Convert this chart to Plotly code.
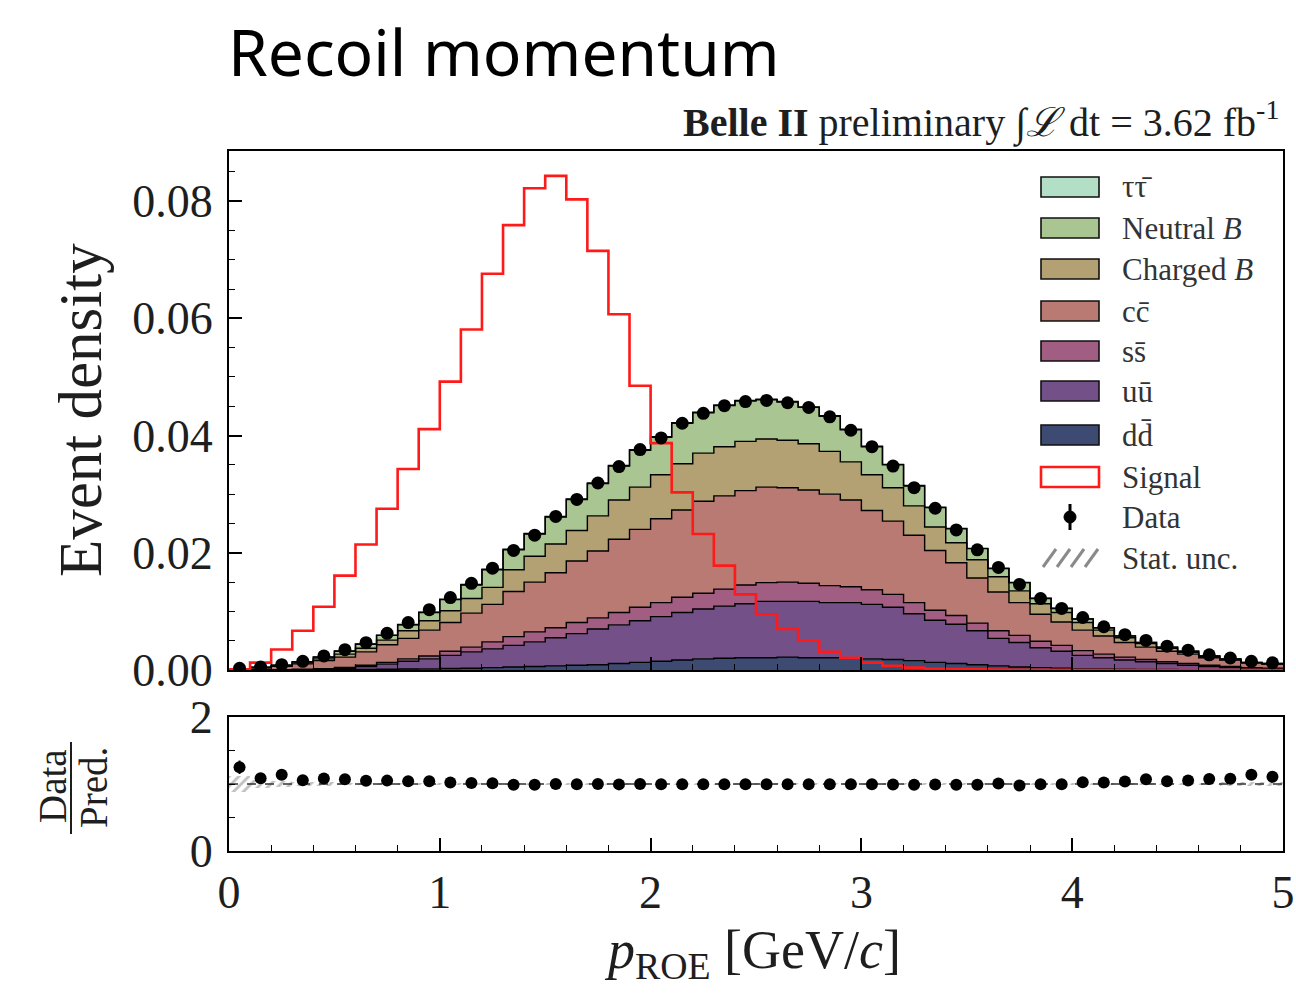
import numpy as np
import plotly.graph_objects as go

# ---- binning: 50 bins of p_ROE between 0 and 5 GeV/c ----
bin_edges = np.linspace(0.0, 5.0, 51)
bin_centres = 0.5 * (bin_edges[:-1] + bin_edges[1:])

# ---- simulated backgrounds (normalised event density per bin), stacked bottom-up ----
dd = [0, 0, 0.00001, 0.00002, 0.00003, 0.00005, 0.00008, 0.00012, 0.00016, 0.0002,
      0.00025, 0.0003, 0.0004, 0.0005, 0.0006, 0.0007, 0.0008, 0.0009, 0.0011, 0.0013,
      0.0015, 0.0017, 0.0019, 0.0020, 0.0021, 0.0021, 0.0022, 0.0021, 0.0021, 0.0020,
      0.0019, 0.0018, 0.0016, 0.0013, 0.0011, 0.0009, 0.0007, 0.0005, 0.0004, 0.0003,
      0.0002, 0.0002, 0.00015, 0.0001, 0.0001, 0.00007, 0.00005, 0.00004, 0.00003, 0.00002]
uu = [0, 0.00001, 0.00002, 0.00006, 0.00012, 0.00025, 0.00052, 0.00088, 0.00134, 0.0017,
      0.00225, 0.0028, 0.0032, 0.0037, 0.0042, 0.0048, 0.0054, 0.0061, 0.0066, 0.0071,
      0.0076, 0.0081, 0.0085, 0.0089, 0.0092, 0.0096, 0.0095, 0.0096, 0.0094, 0.0095,
      0.0093, 0.0089, 0.0080, 0.0072, 0.0067, 0.0058, 0.0047, 0.0042, 0.0034, 0.0029,
      0.0023, 0.0019, 0.00155, 0.0013, 0.0010, 0.00073, 0.00055, 0.00036, 0.00017, 0.00018]
ss = [0.00001, 0.00002, 0.00003, 0.00005, 0.00009, 0.00015, 0.0002, 0.0003, 0.0004, 0.0005,
      0.0007, 0.0008, 0.0012, 0.0015, 0.0017, 0.0017, 0.0019, 0.0019, 0.0021, 0.0023,
      0.0024, 0.0026, 0.0027, 0.0029, 0.0032, 0.0032, 0.0033, 0.0031, 0.0029, 0.0027,
      0.0025, 0.0022, 0.0019, 0.0017, 0.0015, 0.0013, 0.0013, 0.0012, 0.0011, 0.0010,
      0.0008, 0.0006, 0.0005, 0.0004, 0.0003, 0.0003, 0.0002, 0.0002, 0.0002, 0.0001]
cc = [0.00017, 0.00033, 0.00056, 0.00092, 0.00136, 0.00175, 0.0023, 0.0030, 0.0035, 0.0044,
      0.0049, 0.0058, 0.0064, 0.0077, 0.0085, 0.0094, 0.0105, 0.0114, 0.0125, 0.0133,
      0.0143, 0.0149, 0.0157, 0.0159, 0.0161, 0.0163, 0.0161, 0.0159, 0.0156, 0.0148,
      0.0135, 0.0125, 0.0115, 0.0102, 0.0090, 0.0077, 0.0066, 0.0056, 0.0046, 0.0040,
      0.0035, 0.0031, 0.0025, 0.0021, 0.0018, 0.0016, 0.0013, 0.0011, 0.0008, 0.0007]
charged_b = [0.00003, 0.00005, 0.00009, 0.00017, 0.0003, 0.0005, 0.0006, 0.0008, 0.0013, 0.0016,
             0.0020, 0.0025, 0.0029, 0.0037, 0.0044, 0.0049, 0.0052, 0.0060, 0.0067, 0.0072,
             0.0075, 0.0079, 0.0082, 0.0084, 0.0084, 0.0082, 0.0081, 0.0079, 0.0073, 0.0065,
             0.0061, 0.0057, 0.0050, 0.0040, 0.0034, 0.0031, 0.0026, 0.0020, 0.0018, 0.0016,
             0.0013, 0.0010, 0.0008, 0.0006, 0.0005, 0.0003, 0.0002, 0.0001, 0.00005, 0.00005]
neutral_b = [0.00003, 0.00005, 0.00009, 0.00018, 0.0003, 0.0005, 0.0007, 0.0008, 0.0010, 0.0014,
             0.0019, 0.0023, 0.0030, 0.0034, 0.0038, 0.0046, 0.0053, 0.0055, 0.0058, 0.0063,
             0.0064, 0.0069, 0.0069, 0.0070, 0.0069, 0.0067, 0.0065, 0.0062, 0.0060, 0.0055,
             0.0048, 0.0039, 0.0034, 0.0033, 0.0024, 0.0019, 0.0014, 0.0014, 0.0009, 0.0007,
             0.0006, 0.0004, 0.0003, 0.0002, 0.0002, 0.0002, 0.0001, 0.0001, 0.00005, 0.00005]
tautau = [0, 0, 0, 0, 0.00002, 0.00003, 0.00004, 0.00005, 0.00006, 0.00007,
          0.00008, 0.00009, 0.0001, 0.0001, 0.0001, 0.0001, 0.0001, 0.0001, 0.0001, 0.0001,
          0.0001, 0.0001, 0.0001, 0.0001, 0.0001, 0.0001, 0.0001, 0.0001, 0.0001, 0.0001,
          0.0001, 0.00008, 0.00008, 0.00007, 0.00006, 0.00005, 0.00005, 0.00004, 0.00003, 0.00003,
          0.00002, 0.00002, 0.00002, 0.00001, 0.00001, 0.00001, 0.00001, 0, 0, 0]

# ---- signal shape (normalised) ----
signal = [0.0001, 0.00125, 0.0035, 0.0067, 0.0108, 0.0161, 0.0214, 0.0275, 0.0343, 0.0411,
          0.0492, 0.0581, 0.0676, 0.0759, 0.0822, 0.0843, 0.0803, 0.0715, 0.0607, 0.0485,
          0.0387, 0.0303, 0.0232, 0.0178, 0.0129, 0.0095, 0.0070, 0.0050, 0.0031, 0.0021,
          0.00125, 0.0007, 0.0004, 0.0002, 0.00015, 0.0001, 0.00008, 0.00005, 0.00003, 0.00002,
          0.00001, 0.00001, 0, 0, 0, 0, 0, 0, 0, 0]

# ---- data (normalised) ----
data = [0.00030, 0.00050, 0.00091, 0.00148, 0.00240, 0.00346, 0.00466, 0.00625, 0.00809, 0.01029,
        0.01236, 0.01479, 0.01737, 0.0204, 0.0230, 0.0262, 0.0291, 0.0319, 0.0347, 0.0376,
        0.0396, 0.0421, 0.0438, 0.0451, 0.0458, 0.0460, 0.0456, 0.0448, 0.0432, 0.0409,
        0.0381, 0.0348, 0.0311, 0.0276, 0.0239, 0.0205, 0.0175, 0.0146, 0.0122, 0.0105,
        0.00896, 0.00738, 0.00603, 0.00504, 0.00407, 0.00338, 0.00259, 0.00205, 0.00148, 0.00122]
# relative statistical uncertainty of data and of the simulated prediction
data_rel_err = [0.08, 0.05, 0.04, 0.03, 0.025, 0.02, 0.02, 0.015, 0.015, 0.012,
                0.012, 0.01, 0.01, 0.01, 0.01, 0.01, 0.01, 0.01, 0.01, 0.01,
                0.01, 0.01, 0.01, 0.01, 0.01, 0.01, 0.01, 0.01, 0.01, 0.01,
                0.01, 0.01, 0.01, 0.01, 0.01, 0.01, 0.01, 0.01, 0.012, 0.012,
                0.012, 0.015, 0.015, 0.015, 0.02, 0.02, 0.02, 0.025, 0.025, 0.03]
mc_rel_err = [0.12, 0.06, 0.04, 0.03, 0.025, 0.02, 0.02, 0.015, 0.015, 0.012,
              0.012, 0.01, 0.01, 0.01, 0.01, 0.01, 0.01, 0.01, 0.01, 0.01,
              0.01, 0.01, 0.01, 0.01, 0.01, 0.01, 0.01, 0.01, 0.01, 0.01,
              0.01, 0.01, 0.01, 0.01, 0.01, 0.01, 0.01, 0.01, 0.012, 0.012,
              0.012, 0.015, 0.015, 0.015, 0.02, 0.02, 0.02, 0.025, 0.025, 0.03]

components = [
    ("dd\u0304", dd, "#3d4a71"),
    ("u\u016b", uu, "#745089"),
    ("ss\u0304", ss, "#a25d83"),
    ("cc\u0304", cc, "#b87a72"),
    ("Charged <i>B</i>", charged_b, "#b3a073"),
    ("Neutral <i>B</i>", neutral_b, "#a9c591"),
    ("\u03c4\u03c4\u0304", tautau, "#b2dfc6"),
]

SERIF = "Liberation Serif"
INK = "#1e1e1e"
W, H = 1296, 994
L, R, T, B = 229, 1283, 151, 851   # plot area in pixels


def px2x(px):
    return (px - L) / (R - L)


def px2y(py):
    return (B - py) / (B - T)


def step(vals):
    v = np.asarray(vals, dtype=float)
    return bin_edges, np.append(v, v[-1])


fig = go.Figure()

# stacked backgrounds as filled step histograms
cum = np.zeros(len(bin_centres))
for i, (name, vals, colour) in enumerate(components):
    cum = cum + np.asarray(vals, dtype=float)
    sx, sy = step(cum)
    fig.add_trace(go.Scatter(
        x=sx, y=sy, mode="lines", line=dict(shape="hv", color="black", width=1.4),
        fill="tozeroy" if i == 0 else "tonexty", fillcolor=colour,
        name=name, showlegend=False, hoverinfo="skip", xaxis="x", yaxis="y"))
total = cum

# signal outline
sx, sy = step(signal)
fig.add_trace(go.Scatter(
    x=sx, y=sy, mode="lines", line=dict(shape="hv", color="#ff1a1a", width=2.6),
    showlegend=False, xaxis="x", yaxis="y"))

# data points
data_arr = np.asarray(data)
fig.add_trace(go.Scatter(
    x=bin_centres, y=data_arr, mode="markers",
    marker=dict(color="black", size=13),
    error_y=dict(type="data", array=data_arr * np.asarray(data_rel_err),
                 color="black", thickness=2, width=0),
    showlegend=False, xaxis="x", yaxis="y"))

# ---- ratio panel ----
ratio = data_arr / total
mc_err = np.asarray(mc_rel_err)
fig.add_trace(go.Bar(
    x=bin_centres, y=2 * mc_err, base=1 - mc_err, width=0.1,
    marker=dict(color="rgba(0,0,0,0)", line=dict(width=0),
                pattern=dict(shape="/", fgcolor="#808080", size=7, solidity=0.4)),
    showlegend=False, xaxis="x2", yaxis="y2"))
fig.add_trace(go.Scatter(
    x=[0, 5], y=[1, 1], mode="lines", line=dict(color="#333333", width=1.6, dash="dash"),
    showlegend=False, xaxis="x2", yaxis="y2"))
fig.add_trace(go.Scatter(
    x=bin_centres, y=ratio, mode="markers",
    marker=dict(color="black", size=12),
    error_y=dict(type="data", array=np.asarray(data_rel_err) * ratio,
                 color="black", thickness=2, width=0),
    showlegend=False, xaxis="x2", yaxis="y2"))

tickfont = dict(family=SERIF, size=46, color=INK)
frame = dict(showline=True, linecolor="black", linewidth=2, mirror=True,
             ticks="inside", tickcolor="black", tickwidth=1.5, ticklen=13,
             showgrid=False, zeroline=False, tickfont=tickfont, automargin=False)
minor = dict(ticks="inside", ticklen=6, tickcolor="black", tickwidth=1.2, showgrid=False)

split_lo = px2y(717)
split_hi = px2y(670)

fig.update_layout(
    width=W, height=H, margin=dict(l=L, r=W - R, t=T, b=H - B, autoexpand=False),
    paper_bgcolor="white", plot_bgcolor="white", showlegend=False, bargap=0,
    xaxis=dict(domain=[0, 1], anchor="y", range=[0, 5], dtick=1, showticklabels=False,
               minor=dict(dtick=0.2, **minor), matches="x2", **frame),
    yaxis=dict(domain=[split_hi, 1], anchor="x", range=[0, (669 - 151) / 5850],
               dtick=0.02, tickformat=".2f", ticklabelstandoff=5,
               minor=dict(dtick=0.005, **minor), **frame),
    xaxis2=dict(domain=[0, 1], anchor="y2", range=[0, 5], dtick=1, ticklabelstandoff=0,
                minor=dict(dtick=0.2, **minor), **frame),
    yaxis2=dict(domain=[0, split_lo], anchor="x2", range=[0, 2], dtick=2,
                ticklabelstandoff=5, minor=dict(dtick=0.5, **minor), **frame),
)

ann = []
shapes = []

# title and experiment label
ann.append(dict(text="Recoil momentum", x=px2x(226), y=px2y(6), xref="paper", yref="paper",
                xanchor="left", yanchor="top", showarrow=False,
                font=dict(family="Noto Sans", size=64, color="black")))
ann.append(dict(text="<b>Belle II</b> preliminary \u222b<i>\u2112</i> dt = 3.62 fb<sup>-1</sup>",
                x=px2x(1281), y=px2y(121), xref="paper", yref="paper",
                xanchor="right", yanchor="middle", showarrow=False,
                font=dict(family=SERIF, size=40, color=INK)))

# axis titles
ann.append(dict(text="Event density", x=px2x(80), y=px2y(410), xref="paper", yref="paper",
                xanchor="center", yanchor="middle", textangle=-90, showarrow=False,
                font=dict(family=SERIF, size=61, color=INK)))
ann.append(dict(text="<i>p</i><sub>ROE</sub> [GeV/<i>c</i>]", x=px2x(752), y=px2y(953),
                xref="paper", yref="paper", xanchor="center", yanchor="middle",
                showarrow=False, font=dict(family=SERIF, size=54, color=INK)))
ann.append(dict(text="Data", x=px2x(52), y=px2y(786), xref="paper", yref="paper",
                xanchor="center", yanchor="middle", textangle=-90, showarrow=False,
                font=dict(family=SERIF, size=39, color=INK)))
ann.append(dict(text="Pred.", x=px2x(93), y=px2y(788), xref="paper", yref="paper",
                xanchor="center", yanchor="middle", textangle=-90, showarrow=False,
                font=dict(family=SERIF, size=39, color=INK)))
shapes.append(dict(type="line", xref="paper", yref="paper", x0=px2x(71), x1=px2x(71),
                   y0=px2y(742), y1=px2y(834), line=dict(color=INK, width=2)))

# legend
rows = [187, 228, 269, 311, 351, 391, 435, 477, 517, 558]
box_l, box_r, text_x = 1041, 1099, 1120
legend_fills = list(reversed(components))
labels = [c[0] for c in legend_fills] + ["Signal", "Data", "Stat. unc."]
for i, (name, _, colour) in enumerate(legend_fills):
    yc = rows[i]
    shapes.append(dict(type="rect", xref="paper", yref="paper",
                       x0=px2x(box_l), x1=px2x(box_r), y0=px2y(yc + 10), y1=px2y(yc - 10),
                       fillcolor=colour, line=dict(color="#111111", width=1.6)))
yc = rows[7]
shapes.append(dict(type="rect", xref="paper", yref="paper",
                   x0=px2x(box_l), x1=px2x(box_r), y0=px2y(yc + 10), y1=px2y(yc - 10),
                   fillcolor="white", line=dict(color="#ff1a1a", width=2.6)))
yc = rows[8]
shapes.append(dict(type="line", xref="paper", yref="paper", x0=px2x(1070), x1=px2x(1070),
                   y0=px2y(yc + 13), y1=px2y(yc - 13), line=dict(color="black", width=3)))
shapes.append(dict(type="circle", xref="paper", yref="paper", x0=px2x(1064), x1=px2x(1076),
                   y0=px2y(yc + 6), y1=px2y(yc - 6), fillcolor="black",
                   line=dict(color="black", width=1)))
yc = rows[9]
for x0 in (1043, 1057, 1071, 1085):
    shapes.append(dict(type="line", xref="paper", yref="paper", x0=px2x(x0), x1=px2x(x0 + 13),
                       y0=px2y(yc + 9), y1=px2y(yc - 9), line=dict(color="#8a8a8a", width=3)))
for i, lab in enumerate(labels):
    ann.append(dict(text=lab, x=px2x(text_x), y=px2y(rows[i]), xref="paper", yref="paper",
                    xanchor="left", yanchor="middle", showarrow=False,
                    font=dict(family=SERIF, size=31, color="#333333")))

fig.update_layout(annotations=ann, shapes=shapes)
fig.write_html("out.html")
